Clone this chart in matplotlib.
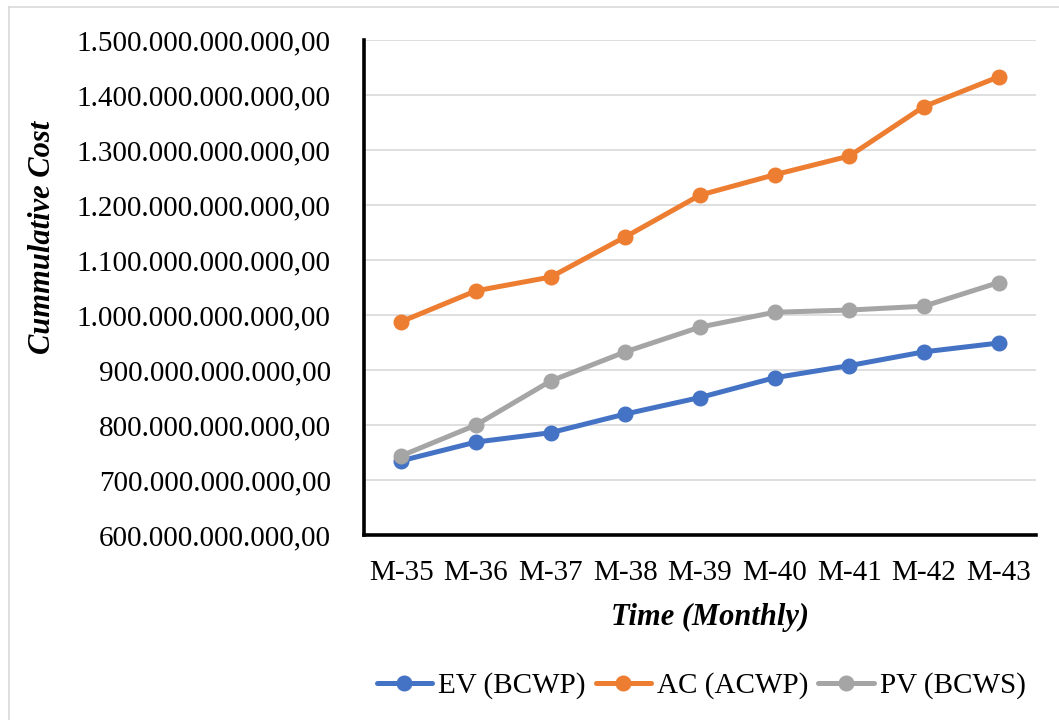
import matplotlib
matplotlib.use("Agg")
import matplotlib.pyplot as plt
from matplotlib.lines import Line2D
from matplotlib.ticker import FuncFormatter

# Données (en milliards)
months = ["M-35", "M-36", "M-37", "M-38", "M-39", "M-40", "M-41", "M-42", "M-43"]
ev = [735, 769, 786, 820, 850, 886, 908, 933, 949]
ac = [988, 1044, 1069, 1142, 1218, 1255, 1289, 1379, 1433]
pv = [744, 800, 880, 933, 978, 1005, 1009, 1016, 1059]

plt.rcParams['font.family'] = ['Liberation Serif', 'DejaVu Serif']

fig = plt.figure(figsize=(10.59, 7.2), dpi=100)
ax = fig.add_axes([364 / 1059, 1 - 535 / 720, (1036 - 364) / 1059, (535 - 40) / 720])

x = range(len(months))
series = [("EV (BCWP)", ev, "#4472C4"), ("AC (ACWP)", ac, "#ED7D31"), ("PV (BCWS)", pv, "#A5A5A5")]
for label, vals, col in series:
    ax.plot(x, [v * 1e9 for v in vals], color=col, lw=3.6, marker='o', ms=10.5,
            label=label, solid_capstyle='round')

ax.set_xlim(-0.5, len(months) - 0.5)
ax.set_ylim(600e9, 1500e9)
ax.set_yticks([v * 1e9 for v in range(600, 1501, 100)])
ax.set_xticks(list(x))
ax.set_xticklabels(months)


def fmt(v, pos):
    s = "{:,.2f}".format(v)
    return s.replace(",", "X").replace(".", ",").replace("X", ".")


ax.yaxis.set_major_formatter(FuncFormatter(fmt))
ax.tick_params(axis='both', length=0, labelsize=21, colors='black')
ax.tick_params(axis='y', pad=24)
ax.tick_params(axis='x', pad=18)

ax.grid(axis='y', color='#d9d9d9', lw=1.2)
ax.set_axisbelow(True)
for s in ['top', 'right']:
    ax.spines[s].set_visible(False)
for s in ['left', 'bottom']:
    ax.spines[s].set_linewidth(2.6)
    ax.spines[s].set_color('black')

fig.text(43 / 1059, 1 - 237 / 720, "Cummulative Cost", rotation=90, ha='center', va='center',
         fontsize=22, fontweight='bold', fontstyle='italic')
fig.text(710 / 1059, 1 - 617 / 720, "Time (Monthly)", ha='center', va='center',
         fontsize=22, fontweight='bold', fontstyle='italic')

fig.legend(loc='center', bbox_to_anchor=(701 / 1059, 1 - 686 / 720), ncol=3, frameon=False,
           fontsize=21, handlelength=1.9, handletextpad=0.2, columnspacing=0.35)

# bordure de la zone du graphique
fig.add_artist(Line2D([9 / 1059, 9 / 1059], [0, 1 - 7 / 720], color='#d9d9d9', lw=1.2))
fig.add_artist(Line2D([9 / 1059, 1], [1 - 7 / 720, 1 - 7 / 720], color='#d9d9d9', lw=1.2))

fig.savefig("out.png", dpi=100)
